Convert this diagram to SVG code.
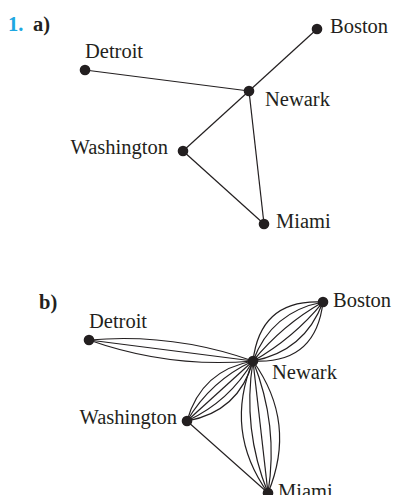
<svg xmlns="http://www.w3.org/2000/svg" width="395" height="495" viewBox="0 0 395 495">
<style>
.e{fill:none;stroke:#231f20;stroke-width:1.2}
.n{fill:#231f20}
text{font-family:"Liberation Serif","Times New Roman",serif;font-size:20.5px;fill:#231f20}
.h{font-weight:bold}
.num{fill:#1ea7e1}
</style>
<rect width="395" height="495" fill="#fff"/>
<text x="8" y="31" class="h"><tspan class="num">1.</tspan></text>
<text x="33" y="31" class="h">a)</text>
<text x="39" y="309" class="h">b)</text>
<g id="edges-a">
<line class="e" x1="85" y1="70" x2="249" y2="91"/>
<line class="e" x1="317" y1="29" x2="249" y2="91"/>
<line class="e" x1="249" y1="91" x2="183" y2="151"/>
<line class="e" x1="249" y1="91" x2="264" y2="224"/>
<line class="e" x1="183" y1="151" x2="264" y2="224"/>
</g>
<g id="edges-b">
<g transform="translate(89 340) rotate(7.30)">
<path class="e" d="M0 0Q82.65 -18 165.3 0"/>
<path class="e" d="M0 0L165.3 0"/>
<path class="e" d="M0 0Q82.65 18 165.3 0"/>
</g>
<g transform="translate(253 361) rotate(-40.12)">
<path class="e" d="M0 0Q45.8 -43 91.55 0"/>
<path class="e" d="M0 0Q45.8 -25.8 91.55 0"/>
<path class="e" d="M0 0Q45.8 -8.6 91.55 0"/>
<path class="e" d="M0 0Q45.8 8.6 91.55 0"/>
<path class="e" d="M0 0Q45.8 25.8 91.55 0"/>
<path class="e" d="M0 0Q45.8 43 91.55 0"/>
</g>
<g transform="translate(253 361) rotate(137.73)">
<path class="e" d="M0 0Q44.6 -28 89.2 0"/>
<path class="e" d="M0 0Q44.6 -14 89.2 0"/>
<path class="e" d="M0 0L89.2 0"/>
<path class="e" d="M0 0Q44.6 14 89.2 0"/>
<path class="e" d="M0 0Q44.6 28 89.2 0"/>
</g>
<g transform="translate(253 361) rotate(83.52)">
<path class="e" d="M0 0Q66.4 -37 132.85 0"/>
<path class="e" d="M0 0Q66.4 -18.5 132.85 0"/>
<path class="e" d="M0 0L132.85 0"/>
<path class="e" d="M0 0Q66.4 18.5 132.85 0"/>
<path class="e" d="M0 0Q66.4 37 132.85 0"/>
</g>
<line class="e" x1="187" y1="421" x2="268" y2="493"/>
</g>
<g id="a-boston"><circle class="n" cx="317" cy="29" r="5.3"/><text x="330" y="33.3">Boston</text></g>
<g id="a-detroit"><circle class="n" cx="85" cy="70" r="5.3"/><text x="85" y="57.7">Detroit</text></g>
<g id="a-newark"><circle class="n" cx="249" cy="91" r="5.3"/><text x="265" y="106">Newark</text></g>
<g id="a-washington"><circle class="n" cx="183" cy="151" r="5.3"/><text x="168" y="154" text-anchor="end">Washington</text></g>
<g id="a-miami"><circle class="n" cx="264" cy="224" r="5.3"/><text x="276" y="228.3">Miami</text></g>
<g id="b-boston"><circle class="n" cx="323" cy="302" r="5.3"/><text x="333" y="307.3">Boston</text></g>
<g id="b-detroit"><circle class="n" cx="89" cy="340" r="5.3"/><text x="89" y="327.7">Detroit</text></g>
<g id="b-newark"><circle class="n" cx="253" cy="361" r="5.3"/><text x="272" y="379">Newark</text></g>
<g id="b-washington"><circle class="n" cx="187" cy="421" r="5.3"/><text x="177" y="424" text-anchor="end">Washington</text></g>
<g id="b-miami"><circle class="n" cx="268" cy="493" r="5.3"/><text x="278" y="497.5">Miami</text></g>
</svg>
